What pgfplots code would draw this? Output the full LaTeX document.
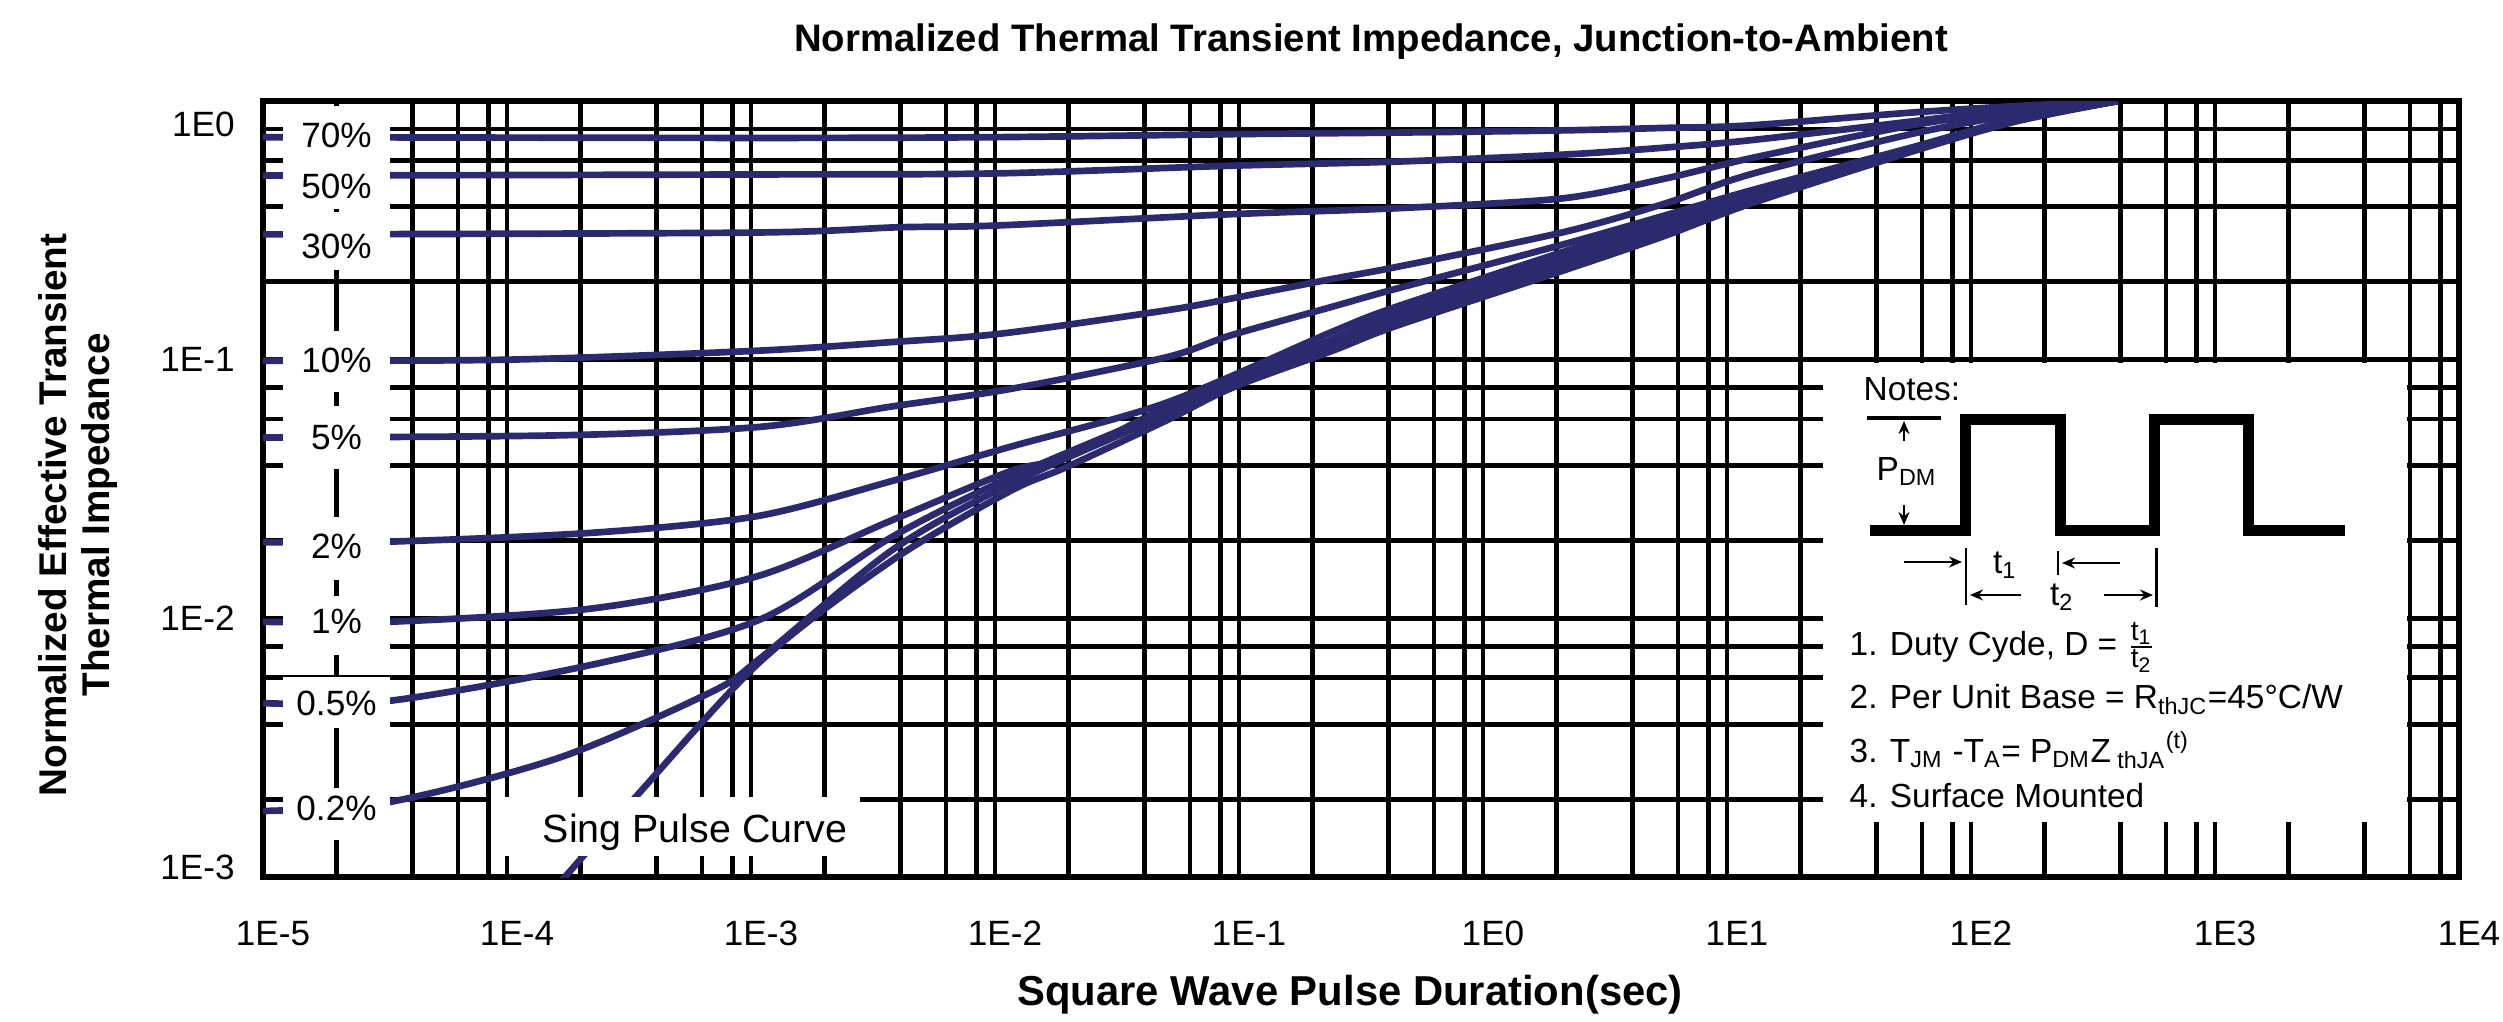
\documentclass[border=0pt]{standalone}
\usepackage{fontspec}
\setmainfont{Liberation Sans}
\usepackage{pgfplots}
\pgfplotsset{compat=1.18}
\usetikzlibrary{arrows.meta}

\definecolor{zth}{RGB}{44,42,110}

\begin{document}
\begin{tikzpicture}
\path[use as bounding box] (0,0) rectangle (25.03,10.21);

\begin{axis}[
  at={(2.63cm,1.44cm)}, anchor=south west,
  width=21.96cm, height=7.76cm, scale only axis,
  xmode=log, ymode=log,
  xmin=1e-5, xmax=1e4, ymin=1e-3, ymax=1,
  xtick={1e-5,1e-4,1e-3,1e-2,1e-1,1,1e1,1e2,1e3,1e4},
  xticklabels={1E-5,1E-4,1E-3,1E-2,1E-1,1E0,1E1,1E2,1E3,1E4},
  ytick={1.093e-3,1e-2,1e-1,0.815},
  yticklabels={1E-3,1E-2,1E-1,1E0},
  minor xtick={2e-5,4.1e-5,6.3e-5,8.4e-5,1e-4,2e-4,4.1e-4,6.3e-4,8.4e-4,1e-3,2e-3,4.1e-3,6.3e-3,8.4e-3,1e-2,
    2e-2,4.1e-2,6.3e-2,8.4e-2,1e-1,0.2,0.41,0.63,0.84,1,2,4.1,6.3,8.4,10,20,41,63,84,100,200,410,630,840,1000,
    2000,4100,6300,8400},
  minor ytick={2e-3,3.9e-3,5.9e-3,7.8e-3,1e-2,2e-2,3.9e-2,5.9e-2,7.8e-2,0.1,0.2,0.39,0.59,0.78},
  xmajorgrids=false, ymajorgrids=false,
  xminorgrids=true, yminorgrids=true,
  major tick length=0pt, minor tick length=0pt,
  minor grid style={black, line width=1.35pt},
  axis line style={black, line width=1.5pt},
  xticklabel style={font=\fontsize{10}{12}\selectfont, anchor=base, yshift=-0.685cm, xshift=0.1cm},
  yticklabel style={font=\fontsize{10}{12}\selectfont, anchor=east, xshift=-0.16cm},
  zcurve/.style={zth, line width=1.9pt, smooth, tension=0.5, no markers, solid},
]
% D = 70%
\addplot[zcurve] coordinates {(1e-5,0.725) (1e-3,0.72) (0.01,0.725) (0.1,0.745) (0.44,0.755) (2.1,0.77) (5.5,0.787) (12.4,0.805) (55,0.9) (150,0.955) (400,1)};
% D = 50%
\addplot[zcurve] coordinates {(1e-5,0.515) (1e-3,0.52) (0.01,0.525) (0.092,0.562) (0.44,0.583) (2.1,0.62) (5.5,0.66) (12.4,0.705) (55,0.83) (150,0.93) (400,1)};
% D = 30%
\addplot[zcurve] coordinates {(1e-5,0.305) (1e-3,0.31) (4e-3,0.325) (0.01,0.33) (0.092,0.365) (0.44,0.385) (2.1,0.42) (5.5,0.50) (12.4,0.60) (55,0.80) (150,0.915) (400,1)};
% D = 10%
\addplot[zcurve] coordinates {(1e-5,0.099) (1e-4,0.1) (1e-3,0.108) (3.8e-3,0.117) (0.0105,0.126) (0.05,0.155) (0.092,0.172) (0.24,0.205) (0.44,0.228) (2.1,0.31) (5.5,0.40) (12.4,0.52) (55,0.74) (150,0.885) (400,1)};
% D = 5%
\addplot[zcurve] coordinates {(1e-5,0.05) (1.65e-4,0.051) (1.09e-3,0.055) (3.8e-3,0.066) (0.0115,0.077) (0.05,0.102) (0.092,0.124) (0.24,0.16) (0.44,0.188) (2.1,0.278) (5.5,0.36) (12.4,0.45) (55,0.655) (150,0.85) (400,1)};
% D = 2%
\addplot[zcurve] coordinates {(1e-5,0.0197) (3.3e-5,0.0198) (2.2e-4,0.0214) (1.05e-3,0.0248) (3.8e-3,0.034) (0.0115,0.046) (0.05,0.068) (0.24,0.128) (0.44,0.16) (2.1,0.26) (5.5,0.35) (12.4,0.44) (55,0.65) (150,0.85) (400,1)};
% D = 1%
\addplot[zcurve] coordinates {(1e-5,0.0097) (3.3e-5,0.0097) (2.2e-4,0.0109) (1.05e-3,0.0145) (3.8e-3,0.024) (0.0115,0.037) (0.0197,0.042) (0.05,0.065) (0.24,0.12) (0.44,0.152) (2.1,0.25) (5.5,0.34) (12.4,0.43) (55,0.645) (150,0.845) (400,1)};
% D = 0.5%
\addplot[zcurve] coordinates {(1e-5,0.0047) (3.3e-5,0.0048) (2.2e-4,0.0066) (1.09e-3,0.0099) (3.8e-3,0.0207) (0.0115,0.035) (0.05,0.063) (0.24,0.116) (0.44,0.146) (2.1,0.24) (5.5,0.33) (12.4,0.42) (55,0.64) (150,0.84) (400,1)};
% D = 0.2%
\addplot[zcurve] coordinates {(1e-5,0.0018) (3.3e-5,0.00195) (1.65e-4,0.0029) (6.9e-4,0.0052) (1.09e-3,0.0070) (3.8e-3,0.0184) (0.0115,0.033) (0.05,0.061) (0.24,0.112) (0.44,0.14) (2.1,0.23) (5.5,0.315) (12.4,0.41) (55,0.635) (150,0.835) (400,1)};
% single pulse
\addplot[zcurve] coordinates {(1.6e-4,0.00092) (3.4e-4,0.00206) (1.09e-3,0.0068) (3.8e-3,0.0168) (0.0115,0.031) (0.0197,0.0385) (0.05,0.058) (0.094,0.078) (0.24,0.108) (0.44,0.135) (2.1,0.22) (5.5,0.30) (12.4,0.40) (55,0.63) (150,0.83) (400,1)};
\end{axis}

% white label column on the left
\fill[white] (2.83,8.12) rectangle (3.90,9.15);
\fill[white] (2.83,7.51) rectangle (3.90,8.09);
\fill[white] (2.83,6.29) rectangle (3.90,6.90);
\fill[white] (2.83,5.52) rectangle (3.90,6.15);
\fill[white] (2.83,4.41) rectangle (3.90,5.04);
\fill[white] (2.83,3.66) rectangle (3.90,4.25);
\fill[white] (2.83,2.93) rectangle (3.90,3.44);
\fill[white] (2.83,1.81) rectangle (3.90,2.33);
\begin{scope}[every node/.style={font=\fontsize{10}{12}\selectfont, inner sep=0pt}]
\node at (3.365,8.855) {70\%};
\node at (3.365,8.342) {50\%};
\node at (3.365,7.75) {30\%};
\node at (3.365,6.603) {10\%};
\node at (3.365,5.832) {5\%};
\node at (3.365,4.745) {2\%};
\node at (3.365,3.994) {1\%};
\node at (3.365,3.18) {0.5\%};
\node at (3.365,2.13) {0.2\%};
\end{scope}

% single pulse label
\fill[white] (4.91,1.65) rectangle (8.60,2.24);
\node[anchor=base, inner sep=0pt, font=\fontsize{11.2}{13}\selectfont] at (6.95,1.79) {Sing Pulse Curve};

% notes box
\fill[white] (18.23,1.99) rectangle (24.07,6.58);
\begin{scope}[font=\fontsize{9.5}{11}\selectfont, every node/.style={inner sep=0pt}]
\node[anchor=base west] at (18.63,6.21) {Notes:};
\draw[line width=0.04cm] (18.67,6.03) -- (19.41,6.03);
\draw[line width=0.6pt, -{Stealth[length=1.3mm,width=1.1mm]}] (19.04,5.80) -- (19.04,6.00);
\node[anchor=base west] at (18.76,5.41) {P\textsubscript{DM}};
\draw[line width=0.6pt, -{Stealth[length=1.3mm,width=1.1mm]}] (19.04,5.16) -- (19.04,4.96);
\draw[line width=0.11cm, line join=miter] (18.70,4.903) -- (19.65,4.903) -- (19.65,6.02) -- (20.60,6.02) -- (20.60,4.903)
  -- (21.54,4.903) -- (21.54,6.02) -- (22.48,6.02) -- (22.48,4.903) -- (23.45,4.903);
\draw[line width=0.7pt] (19.66,4.73) -- (19.66,4.16);
\draw[line width=0.7pt] (20.58,4.70) -- (20.58,4.46);
\draw[line width=0.7pt] (21.565,4.73) -- (21.565,4.14);
\draw[line width=0.6pt, -{Stealth[length=1.3mm,width=1.1mm]}] (19.04,4.59) -- (19.62,4.59);
\node at (20.05,4.56) {t\textsubscript{1}};
\draw[line width=0.6pt, -{Stealth[length=1.3mm,width=1.1mm]}] (21.20,4.58) -- (20.62,4.58);
\draw[line width=0.6pt, -{Stealth[length=1.3mm,width=1.1mm]}] (20.21,4.26) -- (19.70,4.26);
\node at (20.62,4.24) {t\textsubscript{2}};
\draw[line width=0.6pt, -{Stealth[length=1.3mm,width=1.1mm]}] (21.04,4.26) -- (21.53,4.26);
\node[anchor=base west] at (18.49,3.66) {1. Duty Cyde, D = $\frac{\mbox{\fontsize{8}{9}\selectfont t\textsubscript{1}}}{\mbox{\fontsize{8}{9}\selectfont t\textsubscript{2}}}$};
\node[anchor=base west] at (18.49,3.13) {2. Per Unit Base = R\textsubscript{thJC}=45°C/W};
\node[anchor=base west] at (18.49,2.59) {3. T\textsubscript{JM} -T\textsubscript{A}= P\textsubscript{DM}Z\textsubscript{ thJA}\textsuperscript{(t)}};
\node[anchor=base west] at (18.49,2.14) {4. Surface Mounted};
\end{scope}

% titles
\node[anchor=base, font=\bfseries\fontsize{10.9}{12}\selectfont] at (13.71,9.69) {Normalized Thermal Transient Impedance, Junction-to-Ambient};
\node[anchor=base, font=\bfseries\fontsize{11.9}{13}\selectfont] at (13.50,0.16) {Square Wave Pulse Duration(sec)};
\node[rotate=90, align=center, font=\bfseries\fontsize{11}{12.5}\selectfont] at (0.78,5.06) {Normalized Effective Transient\\Thermal Impedance};
\end{tikzpicture}
\end{document}
